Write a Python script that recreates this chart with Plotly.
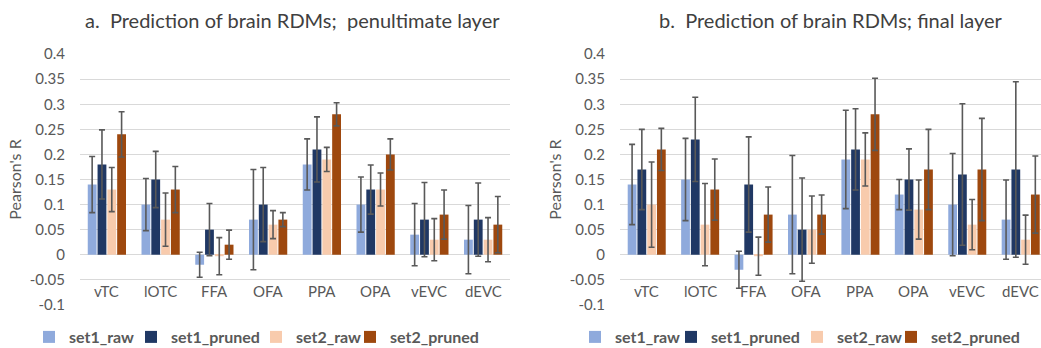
import plotly.graph_objects as go

categories = ["vTC", "lOTC", "FFA", "OFA", "PPA", "OPA", "vEVC", "dEVC"]
series_names = ["set1_raw", "set1_pruned", "set2_raw", "set2_pruned"]
colors = ["#8FAADC", "#203864", "#F8CBAD", "#9E480E"]

# Panel a: penultimate layer
pen_set1_raw = [0.14, 0.10, -0.02, 0.07, 0.18, 0.10, 0.04, 0.03]
pen_set1_pruned = [0.18, 0.15, 0.05, 0.10, 0.21, 0.13, 0.07, 0.07]
pen_set2_raw = [0.13, 0.07, -0.003, 0.06, 0.19, 0.13, 0.03, 0.03]
pen_set2_pruned = [0.24, 0.13, 0.02, 0.07, 0.28, 0.20, 0.08, 0.06]
pen_err_set1_raw = [0.056, 0.052, 0.025, 0.100, 0.051, 0.055, 0.062, 0.068]
pen_err_set1_pruned = [0.069, 0.056, 0.052, 0.074, 0.065, 0.049, 0.074, 0.073]
pen_err_set2_raw = [0.044, 0.053, 0.037, 0.028, 0.024, 0.033, 0.042, 0.044]
pen_err_set2_pruned = [0.045, 0.046, 0.029, 0.014, 0.023, 0.031, 0.049, 0.056]

# Panel b: final layer
fin_set1_raw = [0.14, 0.15, -0.03, 0.08, 0.19, 0.12, 0.10, 0.07]
fin_set1_pruned = [0.17, 0.23, 0.14, 0.05, 0.21, 0.15, 0.16, 0.17]
fin_set2_raw = [0.10, 0.06, -0.003, 0.05, 0.19, 0.09, 0.06, 0.03]
fin_set2_pruned = [0.21, 0.13, 0.08, 0.08, 0.28, 0.17, 0.17, 0.12]
fin_err_set1_raw = [0.080, 0.082, 0.037, 0.118, 0.098, 0.030, 0.102, 0.079]
fin_err_set1_pruned = [0.080, 0.084, 0.095, 0.103, 0.081, 0.061, 0.141, 0.175]
fin_err_set2_raw = [0.085, 0.082, 0.038, 0.067, 0.053, 0.059, 0.050, 0.049]
fin_err_set2_pruned = [0.042, 0.061, 0.055, 0.039, 0.072, 0.080, 0.102, 0.077]

y_ticks = [-0.1, -0.05, 0, 0.05, 0.1, 0.15, 0.2, 0.25, 0.3, 0.35, 0.4]
y_tick_text = ["-0.1", "-0.05", "0", "0.05", "0.1", "0.15", "0.2", "0.25", "0.3", "0.35", "0.4"]
category_label_y = -0.0726

titles = ["a.\u00a0 Prediction of brain RDMs;\u00a0 penultimate layer",
          "b.\u00a0 Prediction of brain RDMs; final layer"]

FONT = "Lato"
GREY = "#595959"
W, H = 1041, 348

panels = [
    ([pen_set1_raw, pen_set1_pruned, pen_set2_raw, pen_set2_pruned],
     [pen_err_set1_raw, pen_err_set1_pruned, pen_err_set2_raw, pen_err_set2_pruned]),
    ([fin_set1_raw, fin_set1_pruned, fin_set2_raw, fin_set2_pruned],
     [fin_err_set1_raw, fin_err_set1_pruned, fin_err_set2_raw, fin_err_set2_pruned]),
]

# left x-position (px) of each legend entry box
legend_x_px = [[29, 131, 256, 350], [575, 671, 797, 891]]
legend_y_px = 337

fig = go.Figure()
layout_legends = {}
n = 0
for p, (vals, errs) in enumerate(panels):
    xa = "x" if p == 0 else "x2"
    ya = "y" if p == 0 else "y2"
    for i, name in enumerate(series_names):
        n += 1
        lg = "legend" if n == 1 else f"legend{n}"
        fig.add_trace(go.Bar(
            x=categories, y=vals[i], name=name,
            marker=dict(color=colors[i], line=dict(width=0)),
            error_y=dict(type="data", array=errs[i], color=GREY, thickness=1.6, width=3),
            xaxis=xa, yaxis=ya, legend=lg,
        ))
        layout_legends[lg] = dict(
            orientation="h", x=legend_x_px[p][i] / W, y=(H - legend_y_px) / H,
            xanchor="left", yanchor="middle", itemwidth=30,
            font=dict(family=FONT, size=16, color=GREY, weight="bold"),
            bgcolor="rgba(0,0,0,0)",
        )

ydom = [(H - 305) / H, (H - 54) / H]
axis_common_y = dict(
    range=[-0.1003, 0.4003], tickvals=y_ticks, ticktext=y_tick_text,
    showgrid=True, gridcolor="#D9D9D9", gridwidth=1.3, zeroline=False,
    showline=False, ticks="", tickfont=dict(family=FONT, size=15, color=GREY),
    ticklabelstandoff=14, domain=ydom,
    title=dict(text="Pearson's R", font=dict(family=FONT, size=16, color=GREY), standoff=4),
)
axis_common_x = dict(
    type="category", showgrid=False, zeroline=False, showline=False, ticks="",
    showticklabels=False,
)

annotations = [
    dict(text=titles[0], x=292 / W, y=(H - 20) / H, xref="paper", yref="paper",
         xanchor="center", yanchor="middle",
         showarrow=False, font=dict(family=FONT, size=20, color="#404040")),
    dict(text=titles[1], x=831 / W, y=(H - 20) / H, xref="paper", yref="paper",
         xanchor="center", yanchor="middle",
         showarrow=False, font=dict(family=FONT, size=20, color="#404040")),
]
for p in range(2):
    for c in categories:
        annotations.append(dict(
            text=c, x=c, y=category_label_y, xref="x" if p == 0 else "x2",
            yref="y" if p == 0 else "y2", xanchor="center", yanchor="middle",
            showarrow=False, font=dict(family=FONT, size=15, color=GREY)))

fig.update_layout(
    width=W, height=H,
    margin=dict(l=0, r=0, t=0, b=0, autoexpand=False),
    paper_bgcolor="white", plot_bgcolor="white",
    barmode="group", bargap=0.27, bargroupgap=0.1,
    xaxis=dict(axis_common_x, domain=[80 / W, 510 / W], range=[-0.5, 7.5], anchor="y"),
    yaxis=dict(axis_common_y, anchor="x"),
    xaxis2=dict(axis_common_x, domain=[620 / W, 1.0], range=[-0.5, 7.38], anchor="y2"),
    yaxis2=dict(axis_common_y, anchor="x2"),
    showlegend=True,
    annotations=annotations,
    **layout_legends,
)

fig.write_html("out.html")
